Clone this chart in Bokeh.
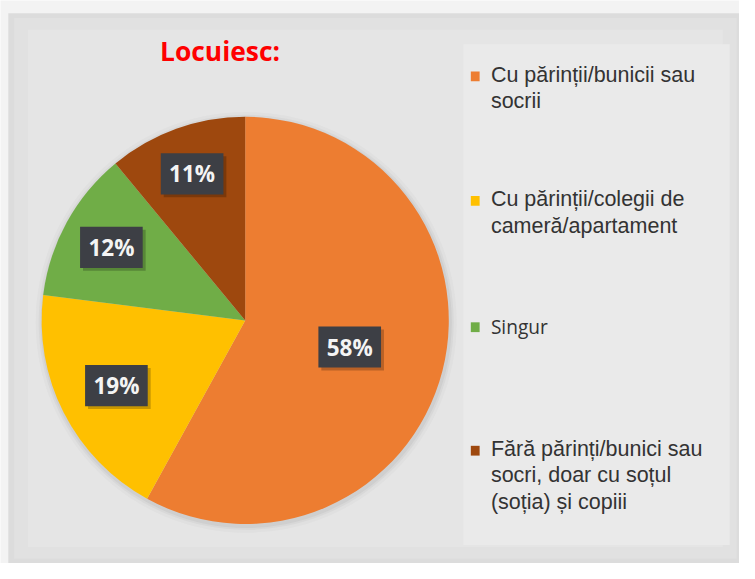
import math
from bokeh.plotting import figure
from bokeh.models import Range1d, ColumnDataSource
from bokeh.core.properties import value
from bokeh.embed import file_html
from bokeh.resources import INLINE

# ---- data ----
categories = [
    "Cu părinții/bunicii sau\nsocrii",
    "Cu părinții/colegii de\ncameră/apartament",
    "Singur",
    "Fără părinți/bunici sau\nsocri, doar cu soțul\n(soția) și copiii",
]
shares = [58, 19, 12, 11]
colors = ["#ED7D31", "#FFC000", "#70AD47", "#9E480E"]
title_text = "Locuiesc:"

# ---- layout: data space = reference picture space (755 x 579) ----
W, H = 739, 563
RW, RH = 755, 579
S = W / RW
def Y(yr): return RH - yr

cx, cy, R = 250, Y(329), 208
label_r = [0.53, 0.71, 0.75, 0.77]
legend_y = [77, 205, 335, 462]
legend_fonts = ["Liberation Sans", "Liberation Sans", "Open Sans", "Liberation Sans"]

def px(v): return f"{v * S:.1f}px"

p = figure(width=W, height=H, x_range=Range1d(0, RW), y_range=Range1d(0, RH),
           output_backend="svg", toolbar_location=None, min_border=0,
           background_fill_color="#f3f3f3", border_fill_color="#f3f3f3")
p.axis.visible = False
p.grid.visible = False
p.outline_line_color = None

# panel
p.quad(left=8, right=755, top=Y(13), bottom=Y(579), fill_color="#dcdcdc", line_color=None)
p.quad(left=14, right=752, top=Y(18), bottom=Y(574), fill_color="#e1e1e1", line_color=None)
p.quad(left=28, right=738, top=Y(30), bottom=Y(562), fill_color="#e5e5e5", line_color=None)
# legend box
p.quad(left=473, right=745, top=Y(45), bottom=Y(560), fill_color="#eaeaea", line_color=None)

# title
p.text(x=[163], y=[Y(52)], text=[title_text], text_font=value("Open Sans"),
       text_font_style="bold", text_font_size=px(27), text_color="#FF0000",
       text_baseline="middle", text_align="left")

# pie shadow
for extra, a in [(7, 0.05), (4, 0.08), (2, 0.1)]:
    p.circle(x=[cx + 1], y=[cy - 2], radius=R + extra, fill_color="#808080",
             fill_alpha=a, line_color=None)

# wedges
total = sum(shares)
starts, ends, mids = [], [], []
ang = math.pi / 2
for s in shares:
    span = 2 * math.pi * s / total
    starts.append(ang - span)
    ends.append(ang)
    mids.append(ang - span / 2)
    ang -= span
src = ColumnDataSource(dict(start=starts, end=ends, color=colors))
p.wedge(x=cx, y=cy, radius=R, start_angle="start", end_angle="end",
        fill_color="color", line_color=None, source=src)

# data labels
lx = [cx + R * f * math.cos(m) for f, m in zip(label_r, mids)]
ly = [cy + R * f * math.sin(m) for f, m in zip(label_r, mids)]
labels = [f"{v}%" for v in shares]
p.rect(x=[v + 3 for v in lx], y=[v - 3 for v in ly], width=64 * S, height=42 * S,
       width_units="screen", height_units="screen", fill_color="#000000",
       fill_alpha=0.22, line_color=None)
p.rect(x=lx, y=ly, width=64 * S, height=42 * S, width_units="screen", height_units="screen",
       fill_color="#3d3f45", line_color=None)
p.text(x=lx, y=ly, text=labels, text_font=value("Open Sans"), text_font_style="bold",
       text_font_size=px(23), text_color="#f4f4f4", text_align="center",
       text_baseline="middle")

# legend
for cat, col, yr, fnt in zip(categories, colors, legend_y, legend_fonts):
    p.rect(x=[485], y=[Y(yr + 1)], width=9 * S, height=10 * S, width_units="screen",
           height_units="screen", fill_color=col, line_color=None)
    p.text(x=[501], y=[Y(yr - 13)], text=[cat], text_font=value(fnt),
           text_font_size=px(22) if fnt != "Open Sans" else px(19.5),
           text_color="#333333", text_align="left", text_baseline="top",
           text_line_height=1.1)

open("out.html", "w").write(file_html(p, INLINE))
